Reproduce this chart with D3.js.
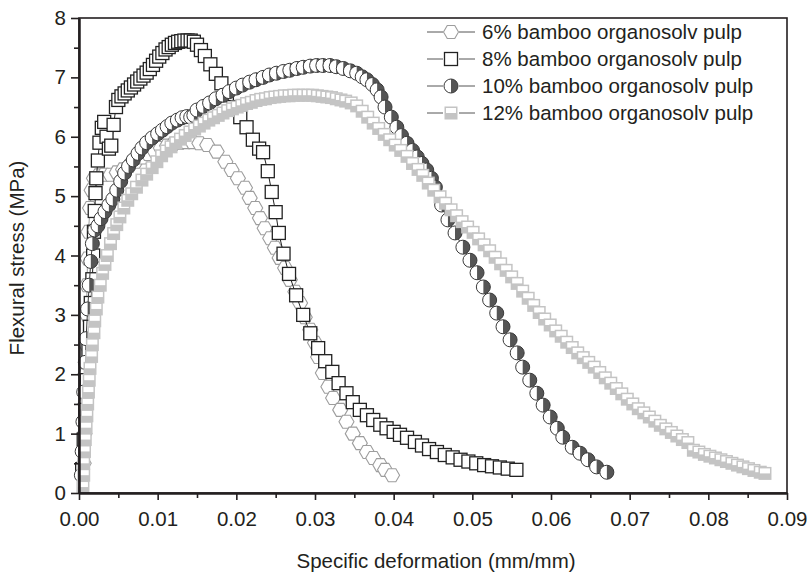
<!DOCTYPE html>
<html>
<head>
<meta charset="utf-8">
<script src="https://cdn.jsdelivr.net/npm/d3@7"></script>
<style>
  body { margin: 0; background: #fff; }
  svg { display: block; }
  text { font-family: Arial, "Liberation Sans", sans-serif; fill: #231f20; }
</style>
</head>
<body>
<div id="chart"></div>
<script>
// values: specific deformation (mm/mm) and flexural stress (MPa)
const strain6 = [0.0006,0.0007,0.0008,0.0008,0.0009,0.001,0.001,0.0011,0.0012,0.0014,0.0016,0.0019,0.0025,0.0032,0.004,0.0048,0.0056,0.0064,0.0072,0.008,0.0088,0.0096,0.0104,0.0112,0.012,0.0128,0.0136,0.0144,0.0153,0.0163,0.0175,0.0186,0.0194,0.0202,0.0211,0.0217,0.0224,0.023,0.0236,0.0243,0.0249,0.0255,0.0262,0.0268,0.0275,0.0281,0.0287,0.0294,0.03,0.0304,0.031,0.0317,0.0323,0.0332,0.034,0.0348,0.0357,0.0366,0.0374,0.0383,0.0389,0.0398];
const stress6 = [0.5,1.0,1.5,2.0,2.5,3.0,3.5,3.95,4.4,4.8,5.1,5.3,5.35,5.36,5.36,5.4,5.45,5.51,5.58,5.65,5.71,5.76,5.81,5.85,5.88,5.9,5.91,5.91,5.89,5.86,5.75,5.58,5.44,5.3,5.14,4.97,4.8,4.63,4.46,4.29,4.13,3.96,3.79,3.59,3.39,3.2,2.96,2.75,2.53,2.29,2.02,1.79,1.6,1.4,1.2,1.0,0.84,0.69,0.59,0.47,0.39,0.3];

const strain8 = [0.0004,0.0006,0.0008,0.001,0.0012,0.0014,0.0015,0.0017,0.0018,0.0019,0.002,0.0021,0.0022,0.0024,0.0026,0.0029,0.0032,0.0035,0.0038,0.0041,0.0044,0.0047,0.005,0.0054,0.0058,0.0062,0.0066,0.007,0.0074,0.0078,0.0082,0.0086,0.009,0.0094,0.0098,0.0102,0.0106,0.011,0.0114,0.0118,0.0122,0.0126,0.013,0.0134,0.0138,0.0142,0.0146,0.015,0.0155,0.016,0.0167,0.0174,0.0181,0.0188,0.0196,0.0205,0.0213,0.0221,0.0229,0.0234,0.024,0.0245,0.025,0.0254,0.026,0.0267,0.0276,0.0285,0.0294,0.0304,0.0313,0.0322,0.033,0.034,0.0348,0.0357,0.0366,0.0374,0.0383,0.0391,0.04,0.0408,0.0417,0.0427,0.0436,0.0445,0.0455,0.0465,0.0475,0.0485,0.0495,0.0505,0.0515,0.0525,0.0535,0.0545,0.0556];
const stress8 = [0.4,0.9,1.4,1.9,2.4,2.8,3.2,3.6,4.0,4.4,4.75,5.05,5.3,5.6,5.9,6.15,6.25,6.0,5.8,5.85,6.2,6.5,6.62,6.68,6.73,6.78,6.83,6.88,6.93,6.98,7.03,7.08,7.14,7.21,7.28,7.35,7.41,7.47,7.51,7.55,7.58,7.6,7.61,7.62,7.62,7.62,7.6,7.55,7.46,7.36,7.22,7.06,6.9,6.7,6.5,6.33,6.16,5.95,5.8,5.74,5.42,5.07,4.73,4.38,4.03,3.69,3.33,3.0,2.69,2.44,2.22,2.04,1.85,1.68,1.53,1.4,1.31,1.23,1.15,1.09,1.03,0.98,0.93,0.86,0.8,0.74,0.69,0.64,0.6,0.56,0.53,0.5,0.47,0.45,0.43,0.41,0.39];

const strain10 = [0.0003,0.0004,0.0005,0.0006,0.0008,0.0009,0.0011,0.0013,0.0015,0.0017,0.002,0.0024,0.0028,0.0033,0.0038,0.0043,0.0048,0.0053,0.0058,0.0063,0.0069,0.0075,0.008,0.0086,0.0093,0.01,0.0106,0.0112,0.0118,0.0125,0.0131,0.0137,0.0142,0.0146,0.015,0.0158,0.0166,0.0174,0.0183,0.0191,0.02,0.0208,0.0217,0.0225,0.0234,0.0242,0.0251,0.026,0.0268,0.0277,0.0285,0.0294,0.0302,0.031,0.0319,0.0327,0.0336,0.0345,0.0353,0.036,0.0366,0.0373,0.0379,0.0384,0.0389,0.0397,0.0404,0.041,0.0417,0.0424,0.043,0.0436,0.0442,0.0448,0.0453,0.0461,0.0469,0.0478,0.0488,0.0497,0.0506,0.0514,0.0522,0.0531,0.0539,0.0548,0.0557,0.0564,0.0573,0.0582,0.059,0.0599,0.0608,0.0615,0.0627,0.0637,0.0647,0.0658,0.0671];
const stress10 = [0.3,0.7,1.2,1.7,2.2,2.6,3.1,3.5,3.9,4.2,4.43,4.5,4.62,4.74,4.85,4.95,5.1,5.25,5.39,5.5,5.61,5.72,5.81,5.9,5.98,6.05,6.11,6.17,6.23,6.28,6.32,6.34,6.33,6.36,6.45,6.51,6.57,6.64,6.7,6.76,6.82,6.87,6.92,6.96,7.0,7.04,7.07,7.1,7.12,7.15,7.17,7.19,7.2,7.2,7.2,7.18,7.15,7.11,7.07,7.01,6.96,6.88,6.79,6.67,6.5,6.33,6.16,6.02,5.89,5.77,5.66,5.55,5.44,5.3,5.15,4.85,4.6,4.38,4.14,3.92,3.71,3.47,3.25,3.03,2.8,2.58,2.36,2.12,1.9,1.68,1.48,1.28,1.09,0.94,0.77,0.67,0.56,0.44,0.35];

const strain12 = [0.0005,0.0006,0.0006,0.0007,0.0008,0.0009,0.001,0.0011,0.0012,0.0013,0.0014,0.0016,0.0017,0.0019,0.002,0.0022,0.0024,0.0027,0.003,0.0033,0.0036,0.004,0.0044,0.0048,0.0052,0.0057,0.0062,0.0067,0.0073,0.008,0.0086,0.0093,0.0099,0.0105,0.0111,0.0117,0.0123,0.0129,0.0135,0.0141,0.0147,0.0153,0.0159,0.0165,0.0171,0.0177,0.0183,0.0189,0.0195,0.0201,0.0207,0.0213,0.0219,0.0225,0.0231,0.0237,0.0243,0.0249,0.0255,0.0261,0.0267,0.0273,0.0279,0.0285,0.0291,0.0297,0.0303,0.0309,0.0315,0.0321,0.0327,0.0333,0.0339,0.0346,0.0353,0.036,0.0367,0.0374,0.0381,0.0388,0.0395,0.0402,0.0409,0.0417,0.0424,0.0431,0.0437,0.0444,0.0451,0.0459,0.0466,0.0473,0.048,0.0487,0.0494,0.0501,0.0508,0.0515,0.0522,0.0529,0.0536,0.0543,0.055,0.0557,0.0564,0.0571,0.0578,0.0585,0.0592,0.0599,0.0606,0.0613,0.062,0.0627,0.0634,0.0641,0.0648,0.0655,0.0662,0.0669,0.0676,0.0683,0.069,0.0697,0.0704,0.0711,0.0718,0.0725,0.0732,0.0739,0.0746,0.0753,0.076,0.0767,0.0774,0.0781,0.0788,0.0795,0.0802,0.0809,0.0816,0.0823,0.083,0.0837,0.0844,0.0851,0.0858,0.0866,0.0872];
const stress12 = [0.1,0.3,0.5,0.7,0.9,1.1,1.3,1.5,1.7,1.9,2.1,2.3,2.5,2.7,2.9,3.1,3.3,3.5,3.7,3.85,4.0,4.2,4.37,4.52,4.65,4.8,4.93,5.04,5.15,5.27,5.37,5.48,5.58,5.68,5.76,5.83,5.9,5.96,6.02,6.08,6.13,6.18,6.23,6.28,6.32,6.36,6.4,6.44,6.47,6.5,6.53,6.56,6.58,6.61,6.63,6.64,6.66,6.67,6.68,6.69,6.69,6.7,6.7,6.7,6.7,6.7,6.69,6.68,6.67,6.66,6.64,6.62,6.6,6.57,6.52,6.43,6.33,6.23,6.14,6.04,5.95,5.86,5.77,5.67,5.55,5.45,5.35,5.22,5.1,4.99,4.88,4.77,4.67,4.57,4.48,4.39,4.28,4.18,4.08,3.97,3.86,3.75,3.64,3.53,3.4,3.28,3.16,3.04,2.93,2.83,2.73,2.64,2.54,2.45,2.36,2.28,2.2,2.12,2.03,1.94,1.85,1.76,1.67,1.58,1.5,1.42,1.35,1.28,1.21,1.14,1.08,1.02,0.96,0.9,0.85,0.72,0.69,0.65,0.62,0.59,0.56,0.53,0.5,0.47,0.44,0.41,0.38,0.35,0.33];

const seriesNames = ['6% bamboo organosolv pulp', '8% bamboo organosolv pulp', '10% bamboo organosolv pulp', '12% bamboo organosolv pulp'];
const xTickValues = [0, 0.01, 0.02, 0.03, 0.04, 0.05, 0.06, 0.07, 0.08, 0.09];
const yTickValues = [0, 1, 2, 3, 4, 5, 6, 7, 8];

const width = 808, height = 575;
const margin = { top: 18, right: 21, bottom: 82, left: 79 };

const x = d3.scaleLinear().domain([0, 0.09]).range([margin.left, width - margin.right]);
const y = d3.scaleLinear().domain([0, 8]).range([height - margin.bottom, margin.top]);

const svg = d3.select('#chart').append('svg')
  .attr('width', width)
  .attr('height', height);

// marker shapes, each drawn around (0,0)
function hexMarker(g) {
  const r = 7.5;
  const pts = d3.range(6).map(i => [r * Math.cos(i * Math.PI / 3), r * Math.sin(i * Math.PI / 3)]);
  g.append('path')
    .attr('d', 'M' + pts.join('L') + 'Z')
    .attr('fill', '#fff')
    .attr('stroke', '#9d9d9d')
    .attr('stroke-width', 1.1);
}
function squareMarker(g) {
  g.append('rect')
    .attr('x', -6.5).attr('y', -6.5).attr('width', 13).attr('height', 13)
    .attr('fill', '#fff')
    .attr('stroke', '#222')
    .attr('stroke-width', 1.3);
}
function halfCircleMarker(g) {
  const r = 7;
  g.append('circle').attr('r', r).attr('fill', '#fff');
  g.append('path')
    .attr('d', `M0,${-r}A${r},${r} 0 0 1 0,${r}Z`)
    .attr('fill', '#555');
  g.append('circle').attr('r', r)
    .attr('fill', 'none')
    .attr('stroke', '#3a3a3a')
    .attr('stroke-width', 1);
}
function halfSquareMarker(g) {
  g.append('rect')
    .attr('x', -6.5).attr('y', -6.5).attr('width', 13).attr('height', 13)
    .attr('fill', '#c4c4c4');
  g.append('rect')
    .attr('x', -5).attr('y', -5).attr('width', 10).attr('height', 5)
    .attr('fill', '#fff');
}

const series = [
  { xs: strain6, ys: stress6, color: '#9d9d9d', marker: hexMarker },
  { xs: strain8, ys: stress8, color: '#222', marker: squareMarker },
  { xs: strain10, ys: stress10, color: '#3a3a3a', marker: halfCircleMarker },
  { xs: strain12, ys: stress12, color: '#c4c4c4', marker: halfSquareMarker }
];

const line = d3.line().x(d => x(d[0])).y(d => y(d[1]));

series.forEach(s => {
  const pts = s.xs.map((v, i) => [v, s.ys[i]]);
  const g = svg.append('g');
  g.append('path')
    .datum(pts)
    .attr('d', line)
    .attr('fill', 'none')
    .attr('stroke', s.color)
    .attr('stroke-width', 1);
  g.selectAll('g.pt')
    .data(pts)
    .enter()
    .append('g')
    .attr('class', 'pt')
    .attr('transform', d => `translate(${x(d[0])},${y(d[1])})`)
    .each(function () { s.marker(d3.select(this)); });
});

// frame
svg.append('rect')
  .attr('x', x(0)).attr('y', y(8))
  .attr('width', x(0.09) - x(0)).attr('height', y(0) - y(8))
  .attr('fill', 'none')
  .attr('stroke', '#231f20')
  .attr('stroke-width', 1.6);

// axes
const xAxis = svg.append('g')
  .attr('transform', `translate(0,${y(0)})`)
  .call(d3.axisBottom(x).tickValues(xTickValues).tickFormat(d3.format('.2f')).tickSize(7).tickSizeOuter(0).tickPadding(11));
const xMinor = svg.append('g')
  .attr('transform', `translate(0,${y(0)})`)
  .call(d3.axisBottom(x).tickValues(xTickValues.slice(0, -1).map(v => v + 0.005)).tickFormat('').tickSize(5).tickSizeOuter(0));
const yAxis = svg.append('g')
  .attr('transform', `translate(${x(0)},0)`)
  .call(d3.axisLeft(y).tickValues(yTickValues).tickFormat(d3.format('d')).tickSize(8).tickSizeOuter(0).tickPadding(5));
const yMinor = svg.append('g')
  .attr('transform', `translate(${x(0)},0)`)
  .call(d3.axisLeft(y).tickValues(yTickValues.slice(0, -1).map(v => v + 0.5)).tickFormat('').tickSize(5).tickSizeOuter(0));

[xAxis, xMinor, yAxis, yMinor].forEach(a => {
  a.select('.domain').attr('stroke', '#231f20').attr('stroke-width', 2);
  a.selectAll('.tick line').attr('stroke', '#231f20').attr('stroke-width', 1.6);
  a.selectAll('.tick text').attr('font-size', 20.5).attr('font-family', 'Arial, "Liberation Sans", sans-serif').attr('fill', '#231f20');
});

// axis titles
svg.append('text')
  .attr('x', 436)
  .attr('y', 568)
  .attr('text-anchor', 'middle')
  .attr('font-size', 20.5)
  .text('Specific deformation (mm/mm)');
svg.append('text')
  .attr('transform', 'translate(24,258) rotate(-90)')
  .attr('text-anchor', 'middle')
  .attr('font-size', 20.5)
  .text('Flexural stress (MPa)');

// legend
const legend = svg.append('g').attr('transform', 'translate(427,32)');
series.forEach((s, i) => {
  const row = legend.append('g').attr('transform', `translate(0,${i * 27})`);
  row.append('line').attr('x1', 0).attr('x2', 48).attr('stroke', '#555').attr('stroke-width', 1);
  const m = row.append('g').attr('transform', 'translate(24,0)');
  m.append('rect').attr('x', -8).attr('y', -8).attr('width', 16).attr('height', 16).attr('fill', '#fff');
  s.marker(m);
  row.append('text')
    .attr('x', 55)
    .attr('y', 7)
    .attr('font-size', 20.5)
    .text(seriesNames[i]);
});
</script>
</body>
</html>
